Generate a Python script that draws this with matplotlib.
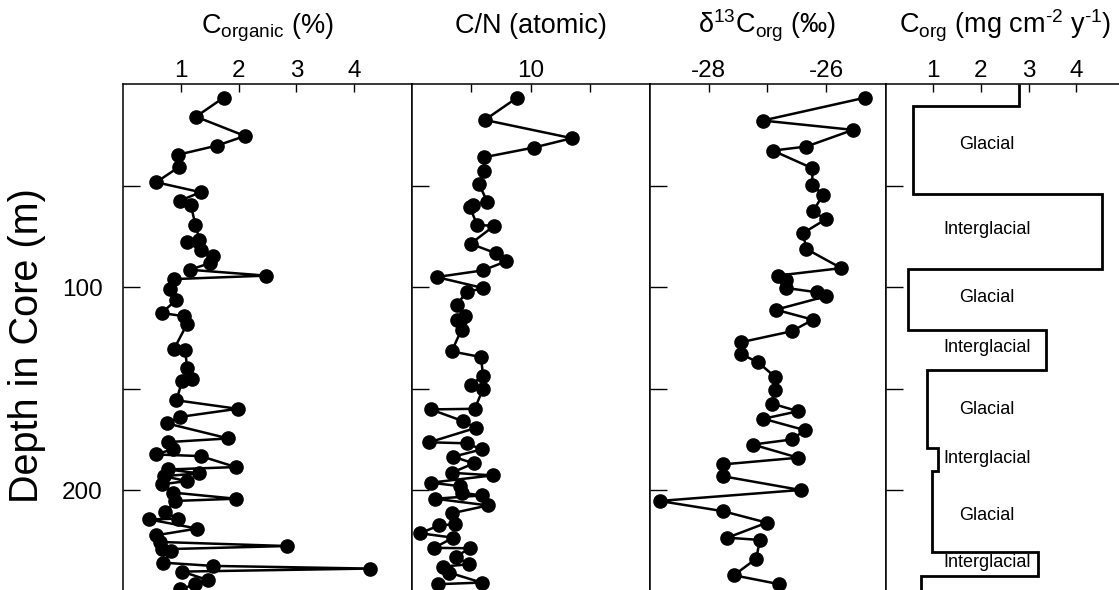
import matplotlib
matplotlib.use("Agg")
import matplotlib.pyplot as plt
import numpy as np

plt.rcParams['font.family'] = ['Liberation Sans', 'DejaVu Sans']
plt.rcParams['mathtext.fontset'] = 'custom'
plt.rcParams['mathtext.rm'] = 'Liberation Sans'
plt.rcParams['mathtext.it'] = 'Liberation Sans:italic'
plt.rcParams['axes.unicode_minus'] = False

# ---------------- data ----------------
corg_depth = [6.7, 16.1, 25.6, 30.3, 34.9, 41.0, 48.4, 53.3, 57.4, 59.5, 69.4, 76.7, 78.0,
              81.7, 84.9, 88.2, 91.5, 94.4, 96.1, 101.0, 106.2, 112.8, 114.4, 118.0, 130.5,
              131.2, 139.9, 145.3, 146.4, 155.8, 160.0, 164.0, 167.2, 174.6, 176.4, 179.7,
              182.5, 183.3, 188.7, 189.9, 191.8, 193.2, 195.6, 197.2, 201.3, 204.3, 205.4,
              210.9, 214.1, 214.5, 219.0, 222.3, 225.6, 227.6, 229.2, 230.0, 235.8, 237.4,
              238.7, 240.2, 244.3, 246.4, 248.9]
corg_pct = [1.74, 1.26, 2.11, 1.63, 0.94, 0.96, 0.57, 1.34, 0.99, 1.17, 1.25, 1.32, 1.10,
            1.34, 1.56, 1.51, 1.15, 2.48, 0.88, 0.81, 0.92, 0.67, 1.05, 1.11, 0.88,
            1.07, 1.11, 1.19, 1.02, 0.92, 1.98, 0.98, 0.76, 1.82, 0.78, 0.87,
            0.57, 1.34, 1.95, 0.78, 1.31, 0.70, 1.10, 0.67, 0.87, 1.95, 0.90,
            0.73, 0.94, 0.45, 1.28, 0.57, 0.64, 2.83, 0.67, 0.83, 0.69, 1.56,
            4.27, 1.02, 1.46, 1.25, 0.99]

cn_depth = [6.7, 17.7, 26.7, 31.3, 36.1, 43.1, 49.2, 57.9, 59.5, 60.7, 69.4, 69.9, 78.7,
            83.3, 87.4, 91.8, 95.1, 100.5, 102.6, 108.7, 114.4, 116.1, 116.9, 121.0, 131.7,
            134.5, 143.6, 148.4, 150.2, 160.0, 160.3, 166.1, 169.4, 176.5, 177.0, 180.0,
            183.6, 186.9, 191.5, 192.8, 196.4, 198.1, 201.3, 202.7, 204.3, 207.6, 211.5,
            216.9, 217.4, 221.3, 223.5, 228.5, 228.7, 232.8, 236.6, 237.7, 240.7, 245.6,
            246.4]
cn_ratio = [9.55, 8.46, 11.39, 10.11, 8.43, 8.43, 8.26, 8.54, 8.05, 7.96, 8.20, 8.77, 7.98,
            8.82, 9.17, 8.40, 6.84, 8.40, 7.85, 7.51, 7.79, 7.53, 7.62, 7.68, 7.34,
            8.33, 8.40, 7.98, 8.40, 8.12, 6.64, 7.73, 8.16, 6.59, 7.85, 8.35,
            7.40, 8.09, 7.34, 8.72, 6.64, 7.62, 7.68, 8.35, 6.78, 8.57, 7.34,
            7.45, 6.93, 6.28, 7.40, 6.75, 7.96, 7.49, 7.93, 7.06, 7.26, 8.35,
            6.89]

d13c_depth = [6.7, 18.0, 22.6, 30.8, 32.8, 41.5, 49.7, 54.6, 62.8, 66.6, 73.5, 81.3, 90.7,
              94.4, 96.4, 100.5, 102.6, 104.6, 111.2, 116.1, 121.8, 127.2, 133.0, 137.1,
              144.3, 150.8, 157.4, 161.2, 164.9, 170.5, 175.1, 177.6, 184.1, 187.4, 193.2,
              200.0, 205.4, 210.4, 216.1, 223.5, 224.6, 233.8, 242.0, 246.4]
d13c = [-25.34, -27.08, -25.55, -26.34, -26.91, -26.24, -26.24, -26.06, -26.23, -26.01,
        -26.40, -26.34, -25.75, -26.83, -26.68, -26.68, -26.16, -26.01, -26.86, -26.23,
        -26.59, -27.45, -27.45, -27.16, -26.87, -26.88, -26.93, -26.48, -27.07, -26.37,
        -26.58, -27.25, -26.48, -27.76, -27.76, -26.44, -28.83, -27.76, -27.01, -27.68,
        -27.13, -27.19, -27.57, -26.80]

flux_edges = [0, 10.8, 54.1, 91.0, 121.0, 140.7, 179.5, 190.7, 230.4, 242.3, 250]
flux_values = [2.79, 0.57, 4.53, 0.48, 3.36, 0.86, 1.10, 0.98, 3.19, 0.75]

period_labels = ['Glacial', 'Interglacial', 'Glacial', 'Interglacial', 'Glacial',
                 'Interglacial', 'Glacial', 'Interglacial']
period_label_depths = [30.0, 71.8, 105.3, 130.0, 160.4, 184.5, 212.5, 235.5]

titles = [r'C$_{\mathregular{organic}}$ (%)', 'C/N (atomic)',
          r'$\mathregular{\delta}^{\mathregular{13}}$C$_{\mathregular{org}}$ (‰)',
          'C$_{\\mathregular{org}}$ (mg cm$^{\\mathregular{\u2010 2}}$ y$^{\\mathregular{\u20101}}$)']
titles[3] = 'C$_{\\mathregular{org}}$ (mg cm$^{\\mathregular{\u20102}}$ y$^{\\mathregular{\u20101}}$)'

# ---------------- layout ----------------
W, H = 1119, 590
fig = plt.figure(figsize=(W / 100, H / 100), dpi=100)

top_px, bot_px = 84, 591.5
lefts = [123.3, 411.7, 649.5, 885.5]
rights = [411.7, 649.5, 885.5, 1124.0]
axes = []
for l, r in zip(lefts, rights):
    ax = fig.add_axes([l / W, (H - bot_px) / H, (r - l) / W, (bot_px - top_px) / H])
    axes.append(ax)

tick_fs = 17.5
for ax in axes:
    ax.set_ylim(250, 0)
    ax.set_yticks([50, 100, 150, 200, 250])
    ax.yaxis.set_ticklabels([])
    ax.tick_params(axis='y', direction='in', length=12, width=1.0, left=True, right=False,
                   labelsize=tick_fs, pad=15)
    ax.xaxis.tick_top()
    ax.tick_params(axis='x', direction='in', length=5.5, width=1.0, top=True, bottom=False,
                   labeltop=True, labelbottom=False, labelsize=tick_fs, pad=1.5)
    for s in ax.spines.values():
        s.set_linewidth(1.1)
    ax.spines['bottom'].set_visible(False)

axes[0].set_yticklabels(['', '100', '', '200', ''])

mk = dict(color='black', linewidth=1.8, marker='o', markersize=9.5,
          markerfacecolor='black', markeredgecolor='black')

ax = axes[0]
ax.plot(corg_pct, corg_depth, **mk)
ax.set_xlim(0, 5)
ax.set_xticks([1, 2, 3, 4])
ax.set_xticklabels(['1', '2', '3', '4'])

ax = axes[1]
ax.plot(cn_ratio, cn_depth, **mk)
ax.set_xlim(6, 14)
ax.set_xticks([8, 10, 12])
ax.set_xticklabels(['', '10', ''])

ax = axes[2]
ax.plot(d13c, d13c_depth, **mk)
ax.set_xlim(-29, -25)
ax.set_xticks([-28, -27, -26])
ax.set_xticklabels(['-28', '', '-26'])

ax = axes[3]
ax.stairs(flux_values, flux_edges, orientation='horizontal', baseline=None,
          color='black', linewidth=2.0)
ax.set_xlim(0, 5)
ax.set_xticks([1, 2, 3, 4])
ax.set_xticklabels(['1', '2', '3', '4'])
for lab, d in zip(period_labels, period_label_depths):
    ax.text(2.13, d, lab, ha='center', va='center', fontsize=13)

# titles
for l, r, t in zip(lefts, rights, titles):
    fig.text((l + r) / 2 / W, 1 - 33 / H, t, ha='center', va='baseline', fontsize=19.5)

fig.text(27 / W, 1 - 346 / H, 'Depth in Core (m)', rotation=90, ha='center', va='center',
         fontsize=28.5)

fig.savefig('out.png', dpi=100)
